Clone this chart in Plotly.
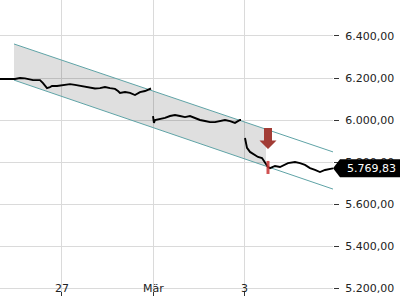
import plotly.graph_objects as go
import pandas as pd

# ---------------- data ----------------
seg1_t = ["2025-02-25 15:44", "2025-02-25 23:36", "2025-02-26 02:14", "2025-02-26 04:51",
          "2025-02-26 09:03", "2025-02-26 12:43", "2025-02-26 14:18", "2025-02-26 16:24",
          "2025-02-26 17:58", "2025-02-26 19:01", "2025-02-26 21:38", "2025-02-27 01:50",
          "2025-02-27 02:53", "2025-02-27 04:28", "2025-02-27 07:05", "2025-02-27 09:42",
          "2025-02-27 12:20", "2025-02-27 14:57", "2025-02-27 17:34", "2025-02-27 20:12",
          "2025-02-27 22:49", "2025-02-28 01:27", "2025-02-28 04:04", "2025-02-28 05:38",
          "2025-02-28 06:41", "2025-02-28 09:19", "2025-02-28 11:56", "2025-02-28 14:33",
          "2025-02-28 17:11", "2025-02-28 19:48", "2025-02-28 22:26", "2025-02-28 22:57"]
seg1_v = [6195, 6195, 6200, 6198, 6190, 6190, 6176, 6152, 6157, 6162, 6162, 6167,
          6171, 6171, 6167, 6162, 6157, 6152, 6150, 6152, 6157, 6152, 6148, 6138,
          6129, 6133, 6129, 6119, 6133, 6138, 6148, 6150]

seg2_t = ["2025-03-01 00:00", "2025-03-01 00:30", "2025-03-01 01:03", "2025-03-01 03:40",
          "2025-03-01 06:18", "2025-03-01 08:55", "2025-03-01 11:32", "2025-03-01 14:10",
          "2025-03-01 16:47", "2025-03-01 19:25", "2025-03-01 22:02", "2025-03-02 00:39",
          "2025-03-02 03:17", "2025-03-02 05:54", "2025-03-02 08:31", "2025-03-02 11:09",
          "2025-03-02 13:46", "2025-03-02 16:24", "2025-03-02 19:01", "2025-03-02 21:38",
          "2025-03-02 22:10"]
seg2_v = [6019, 5986, 6000, 6005, 6010, 6019, 6024, 6019, 6014, 6019, 6010, 6000,
          5995, 5990, 5990, 5995, 6000, 5995, 5986, 6000, 6000]

seg3_t = ["2025-03-03 00:16", "2025-03-03 01:19", "2025-03-03 02:53", "2025-03-03 05:30",
          "2025-03-03 07:05", "2025-03-03 09:11", "2025-03-03 10:45", "2025-03-03 12:20",
          "2025-03-03 13:23", "2025-03-03 16:00", "2025-03-03 18:37", "2025-03-03 21:15",
          "2025-03-03 22:49", "2025-03-04 02:29", "2025-03-04 05:07", "2025-03-04 07:44",
          "2025-03-04 10:22", "2025-03-04 12:59", "2025-03-04 15:36", "2025-03-04 18:14",
          "2025-03-04 20:51", "2025-03-04 22:26"]
seg3_v = [5914, 5867, 5848, 5833, 5824, 5819, 5795, 5776, 5771, 5781, 5776, 5786,
          5795, 5800, 5795, 5786, 5771, 5762, 5752, 5762, 5767, 5769.83]

# trend channel (start / end of the two boundary lines)
chan_t = ["2025-02-25 23:05", "2025-03-04 22:26"]
chan_upper = [6362, 5848]
chan_lower = [6190, 5671]
chan_fill_end = "2025-03-03 11:17"

# sell signal
signal_t = "2025-03-03 12:20"
signal_arrow_tip = 5862
signal_bar = [5743, 5805]

last_value = 5769.83
last_label = "5.769,83"

x_tickvals = ["2025-02-27", "2025-03-01", "2025-03-03"]
x_ticktext = ["27", "Mär", "3"]
y_tickvals = [5200, 5400, 5600, 5800, 6000, 6200, 6400]

x_range = ["2025-02-25 15:44", "2025-03-04 22:26"]
y_range = [5161.9, 6571.4]

# ---------------- figure ----------------
line_t = seg1_t + [None] + seg2_t + [None] + seg3_t
line_v = seg1_v + [None] + seg2_v + [None] + seg3_v

t0, t1 = pd.Timestamp(chan_t[0]), pd.Timestamp(chan_t[1])
tf = pd.Timestamp(chan_fill_end)
frac = (tf - t0) / (t1 - t0)
up_f = chan_upper[0] + (chan_upper[1] - chan_upper[0]) * frac
lo_f = chan_lower[0] + (chan_lower[1] - chan_lower[0]) * frac

fig = go.Figure()
fig.add_trace(go.Scatter(
    x=[chan_t[0], chan_fill_end, chan_fill_end, chan_t[0]],
    y=[chan_upper[0], up_f, lo_f, chan_lower[0]],
    fill="toself", fillcolor="rgba(0,0,0,0.125)", line=dict(width=0),
    mode="lines", hoverinfo="skip"))
fig.add_trace(go.Scatter(x=chan_t, y=chan_upper, mode="lines",
                         line=dict(color="#5fa3a6", width=1)))
fig.add_trace(go.Scatter(x=chan_t, y=chan_lower, mode="lines",
                         line=dict(color="#5fa3a6", width=1)))
fig.add_trace(go.Scatter(x=line_t, y=line_v, mode="lines", connectgaps=False,
                         line=dict(color="black", width=1.9)))

# red signal bar
fig.add_shape(type="rect", xref="x", yref="y", xsizemode="pixel", xanchor=signal_t,
              x0=-1.5, x1=1.5, y0=signal_bar[0], y1=signal_bar[1],
              fillcolor="rgba(200,50,50,0.85)", line=dict(width=0))
# down arrow
fig.add_shape(type="path", xref="x", yref="y", xsizemode="pixel", ysizemode="pixel",
              xanchor=signal_t, yanchor=signal_arrow_tip,
              path="M 0,0 L -8.5,8.5 L -4,8.5 L -4,21 L 4,21 L 4,8.5 L 8.5,8.5 Z",
              fillcolor="#a23c35", line=dict(width=0))
# last price tag
fig.add_shape(type="path", xref="paper", yref="y", xsizemode="pixel", ysizemode="pixel",
              xanchor=1, yanchor=last_value,
              path="M 0,0 L 7,9 L 67,9 L 67,-9 L 7,-9 Z",
              fillcolor="black", line=dict(width=0))
fig.add_annotation(xref="paper", yref="y", x=1, y=last_value, xanchor="left",
                   xshift=12, text=last_label, showarrow=False,
                   font=dict(color="white", size=11, family="DejaVu Sans"))

# x tick labels drawn inside the plot, just above the tick marks
for tv, tt in zip(x_tickvals, x_ticktext):
    fig.add_annotation(xref="x", yref="y", x=tv, y=y_tickvals[0], text=tt,
                       showarrow=False, xanchor="center", yanchor="middle", yshift=0,
                       font=dict(color="#222", size=11, family="DejaVu Sans"))

fig.update_layout(
    width=400, height=300, margin=dict(l=0, r=67, t=0, b=4),
    paper_bgcolor="white", plot_bgcolor="white", showlegend=False,
    separators=",.",
    font=dict(family="DejaVu Sans", size=11, color="#222"),
    xaxis=dict(type="date", range=x_range, tickvals=x_tickvals, showticklabels=False,
               showgrid=True, gridcolor="#dadada", gridwidth=1, zeroline=False,
               showline=False, ticks="inside", ticklen=4, tickcolor="#333"),
    yaxis=dict(side="right", range=y_range, tickvals=y_tickvals, tickformat=",.2f",
               showgrid=True, gridcolor="#dadada", gridwidth=1, zeroline=False,
               showline=False, ticks="outside", ticklen=5, tickcolor="#333",
               ticklabelstandoff=4),
)

fig.write_html("out.html")
